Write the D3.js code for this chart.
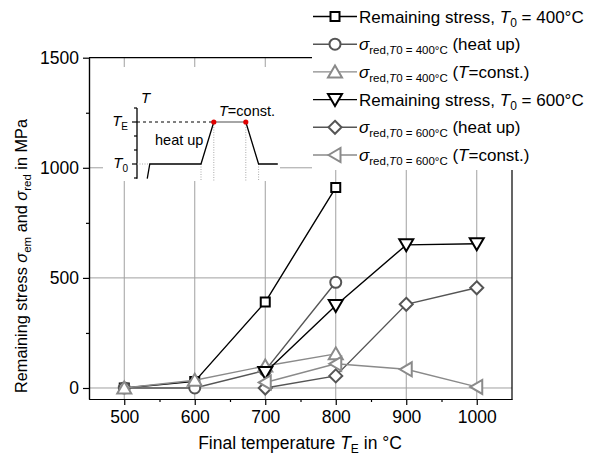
<!DOCTYPE html>
<html>
<head>
<meta charset="utf-8">
<script src="https://cdn.jsdelivr.net/npm/d3@7/dist/d3.min.js"></script>
<style>
  body { margin: 0; background: #fff; }
  svg text { font-family: "Liberation Sans", Arial, sans-serif; fill: #000; }
</style>
</head>
<body>
<div id="chart"></div>
<script>
// values
const finalTemp400 = [500, 600, 700, 800];
const finalTemp600 = [700, 800, 900, 1000];
const remStress400 = [0, 30, 390, 910];
const redHeat400   = [0, 0, 80, 480];
const redConst400  = [0, 35, 100, 155];
const remStress600 = [70, 375, 650, 655];
const redHeat600   = [0, 55, 380, 455];
const redConst600  = [25, 110, 85, 5];

const xTicks = [500, 600, 700, 800, 900, 1000];
const xMinor = [550, 650, 750, 850, 950];
const yTicks = [0, 500, 1000, 1500];
const yMinor = [250, 750, 1250];

// inset schematic (heating cycle)
const insetTime = [0.8, 1, 5, 6, 8.5, 9.5, 11];
const insetTemp = [-0.05, 1, 1, 4, 4, 1, 1];
const insetTicks = [0, 1, 2, 3, 4, 5];
const T0 = 1, TE = 4;

const series = [
  { x: finalTemp400, y: remStress400, shape: "square",   color: "#000",    t0: "400", kind: "rem" },
  { x: finalTemp400, y: redHeat400,   shape: "circle",   color: "#555",    t0: "400", kind: "heat" },
  { x: finalTemp400, y: redConst400,  shape: "triUp",    color: "#8a8a8a", t0: "400", kind: "const" },
  { x: finalTemp600, y: remStress600, shape: "triDown",  color: "#000",    t0: "600", kind: "rem" },
  { x: finalTemp600, y: redHeat600,   shape: "diamond",  color: "#555",    t0: "600", kind: "heat" },
  { x: finalTemp600, y: redConst600,  shape: "triLeft",  color: "#8a8a8a", t0: "600", kind: "const" }
];

const width = 598, height = 459;
const svg = d3.select("#chart").append("svg")
  .attr("width", width)
  .attr("height", height);

// scales
const x = d3.scaleLinear().domain([450, 1050]).range([89, 512]);
const y = d3.scaleLinear().domain([-50, 1500]).range([399, 57.7]);

// grid
svg.append("g").selectAll("line").data(xTicks).enter().append("line")
  .attr("x1", d => x(d)).attr("x2", d => x(d))
  .attr("y1", y(-50)).attr("y2", y(1500))
  .attr("stroke", "#a0a0a0").attr("stroke-width", 1);
svg.append("g").selectAll("line").data([0, 500, 1000]).enter().append("line")
  .attr("x1", x(450)).attr("x2", x(1050))
  .attr("y1", d => y(d)).attr("y2", d => y(d))
  .attr("stroke", "#a0a0a0").attr("stroke-width", 1);

// frame top and right
svg.append("path")
  .attr("d", `M${x(450)},${y(1500)}H${x(1050)}V${y(-50)}`)
  .attr("fill", "none").attr("stroke", "#000").attr("stroke-width", 1.2);

// axes
svg.append("g").attr("transform", `translate(0,${y(-50)})`)
  .call(d3.axisBottom(x).tickValues(xTicks).tickSize(6).tickSizeOuter(0).tickPadding(6).tickFormat(d3.format("d")));
svg.append("g").attr("transform", `translate(0,${y(-50)})`)
  .call(d3.axisBottom(x).tickValues(xMinor).tickSize(3).tickSizeOuter(0).tickFormat(""));
svg.append("g").attr("transform", `translate(${x(450)},0)`)
  .call(d3.axisLeft(y).tickValues(yTicks).tickSize(6).tickSizeOuter(0).tickPadding(4).tickFormat(d3.format("d")));
svg.append("g").attr("transform", `translate(${x(450)},0)`)
  .call(d3.axisLeft(y).tickValues(yMinor).tickSize(3).tickSizeOuter(0).tickFormat(""));

svg.selectAll(".domain").attr("stroke", "#000").attr("stroke-width", 1.2);
svg.selectAll(".tick line").attr("stroke", "#000").attr("stroke-width", 1.2);
svg.selectAll(".tick text").style("font-size", "17.5px").style("font-family", "Liberation Sans, Arial, sans-serif");

// marker paths
function markerPath(shape) {
  switch (shape) {
    case "square":  return "M-4.5,-4.5H4.5V4.5H-4.5Z";
    case "circle":  return d3.arc()({ innerRadius: 0, outerRadius: 5.5, startAngle: 0, endAngle: 2 * Math.PI });
    case "triUp":   return "M0,-6.5L7,5.5H-7Z";
    case "triDown": return "M0,6.5L7,-5.5H-7Z";
    case "diamond": return "M0,-6.5L6.5,0L0,6.5L-6.5,0Z";
    case "triLeft": return "M-6.5,0L5.5,-7V7Z";
  }
}

// data lines and markers
const line = d3.line().x(d => x(d[0])).y(d => y(d[1]));
series.forEach(s => {
  const pts = s.x.map((v, i) => [v, s.y[i]]);
  const g = svg.append("g");
  g.append("path").datum(pts)
    .attr("d", line)
    .attr("fill", "none").attr("stroke", s.color).attr("stroke-width", 1.4);
  g.selectAll("path.m").data(pts).enter().append("path")
    .attr("class", "m")
    .attr("d", markerPath(s.shape))
    .attr("transform", d => `translate(${x(d[0])},${y(d[1])})`)
    .attr("fill", "#fff").attr("stroke", s.color).attr("stroke-width", 2);
});

// axis titles
const xt = svg.append("text")
  .attr("x", 300).attr("y", 449)
  .attr("text-anchor", "middle")
  .style("font-size", "17.5px");
xt.append("tspan").text("Final temperature ");
xt.append("tspan").style("font-style", "italic").text("T");
xt.append("tspan").attr("dy", 4).style("font-size", "12px").text("E");
xt.append("tspan").attr("dy", -4).text(" in °C");

const yt = svg.append("text")
  .attr("transform", "translate(27,393) rotate(-90)")
  .attr("text-anchor", "start")
  .style("font-size", "16.3px");
yt.append("tspan").text("Remaining stress ");
yt.append("tspan").style("font-style", "italic").text("σ");
yt.append("tspan").attr("dy", 4).style("font-size", "11.5px").text("em");
yt.append("tspan").attr("dy", -4).text(" and ");
yt.append("tspan").style("font-style", "italic").text("σ");
yt.append("tspan").attr("dy", 4).style("font-size", "11.5px").text("red");
yt.append("tspan").attr("dy", -4).text(" in MPa");

// inset
const inset = svg.append("g");
inset.append("rect")
  .attr("x", 103).attr("y", 67).attr("width", 177).attr("height", 114)
  .attr("fill", "#fff");

const ix = d3.scaleLinear().domain([0, 11]).range([137, 277.8]);
const iy = d3.scaleLinear().domain([0, 5]).range([178, 108]);

inset.append("line")
  .attr("x1", ix(0)).attr("x2", ix(0))
  .attr("y1", iy(5)).attr("y2", iy(-0.05))
  .attr("stroke", "#000").attr("stroke-width", 1.3);
inset.selectAll("line.it").data(insetTicks).enter().append("line")
  .attr("class", "it")
  .attr("x1", d => ix(0) - (d === T0 || d === TE ? 5 : 3)).attr("x2", ix(0))
  .attr("y1", d => iy(d)).attr("y2", d => iy(d))
  .attr("stroke", "#000").attr("stroke-width", 1.2);

// guide lines
inset.append("line")
  .attr("x1", ix(0)).attr("x2", ix(6))
  .attr("y1", iy(TE)).attr("y2", iy(TE))
  .attr("stroke", "#000").attr("stroke-width", 1).attr("stroke-dasharray", "3,3");
inset.append("line")
  .attr("x1", ix(0)).attr("x2", ix(1))
  .attr("y1", iy(T0)).attr("y2", iy(T0))
  .attr("stroke", "#aaa").attr("stroke-width", 1).attr("stroke-dasharray", "1,1.5");
inset.selectAll("line.vg").data([2, 3, 4, 5]).enter().append("line")
  .attr("class", "vg")
  .attr("x1", i => ix(insetTime[i])).attr("x2", i => ix(insetTime[i]))
  .attr("y1", i => iy(insetTemp[i])).attr("y2", iy(-0.2))
  .attr("stroke", "#aaa").attr("stroke-width", 1).attr("stroke-dasharray", "1,1.5");

// temperature curve
const ipts = insetTime.map((t, i) => [t, insetTemp[i]]);
const iline = d3.line().x(d => ix(d[0])).y(d => iy(d[1]));
inset.append("path").datum(ipts.slice(0, 4))
  .attr("d", iline).attr("fill", "none").attr("stroke", "#000").attr("stroke-width", 1.3);
inset.append("path").datum(ipts.slice(3, 5))
  .attr("d", iline).attr("fill", "none").attr("stroke", "#888").attr("stroke-width", 1.3);
inset.append("path").datum(ipts.slice(4))
  .attr("d", iline).attr("fill", "none").attr("stroke", "#000").attr("stroke-width", 1.3);
inset.selectAll("circle").data(ipts.slice(3, 5)).enter().append("circle")
  .attr("cx", d => ix(d[0])).attr("cy", d => iy(d[1])).attr("r", 2.6)
  .attr("fill", "#e00000");

// inset labels
inset.append("text").attr("x", 141).attr("y", 103)
  .style("font-size", "15px").style("font-style", "italic").text("T");
const lte = inset.append("text").attr("x", 128).attr("y", iy(TE) + 4)
  .attr("text-anchor", "end").style("font-size", "15px");
lte.append("tspan").style("font-style", "italic").text("T");
lte.append("tspan").attr("dy", 4).style("font-size", "10px").text("E");
const lt0 = inset.append("text").attr("x", 128).attr("y", iy(T0) + 4)
  .attr("text-anchor", "end").style("font-size", "15px");
lt0.append("tspan").style("font-style", "italic").text("T");
lt0.append("tspan").attr("dy", 4).style("font-size", "10px").text("0");
inset.append("text").attr("x", 155).attr("y", 145)
  .style("font-size", "14.5px").text("heat up");
const ltc = inset.append("text").attr("x", 219).attr("y", 116)
  .style("font-size", "14.5px");
ltc.append("tspan").style("font-style", "italic").text("T");
ltc.append("tspan").text("=const.");

// legend
const legend = svg.append("g");
legend.append("rect")
  .attr("x", 312).attr("y", 0).attr("width", 286).attr("height", 170)
  .attr("fill", "#fff");

series.forEach((s, i) => {
  const ly = 16.5 + i * 27.7;
  const g = legend.append("g").attr("transform", `translate(0,${ly})`);
  g.append("line").attr("x1", 313).attr("x2", 357).attr("y1", 0).attr("y2", 0)
    .attr("stroke", s.color).attr("stroke-width", 1.4);
  g.append("path").attr("d", markerPath(s.shape))
    .attr("transform", "translate(335,0)")
    .attr("fill", "#fff").attr("stroke", s.color).attr("stroke-width", 2);
  const t = g.append("text").attr("x", 359).attr("y", 6).style("font-size", "17px");
  if (s.kind === "rem") {
    t.append("tspan").text("Remaining stress,");
    t.append("tspan").style("font-style", "italic").text(" T");
    t.append("tspan").attr("dy", 4).style("font-size", "12px").text("0");
    t.append("tspan").attr("dy", -4).text(` = ${s.t0}°C`);
  } else {
    t.append("tspan").style("font-style", "italic").text("σ");
    t.append("tspan").attr("dy", 4).style("font-size", "11.5px").text("red,");
    t.append("tspan").style("font-size", "11.5px").style("font-style", "italic").text("T");
    t.append("tspan").style("font-size", "11.5px").text(`0 = ${s.t0}°C`);
    t.append("tspan").attr("dy", -4).text(s.kind === "heat" ? " (heat up)" : " (");
    if (s.kind === "const") {
      t.append("tspan").style("font-style", "italic").text("T");
      t.append("tspan").text("=const.)");
    }
  }
});
</script>
</body>
</html>
